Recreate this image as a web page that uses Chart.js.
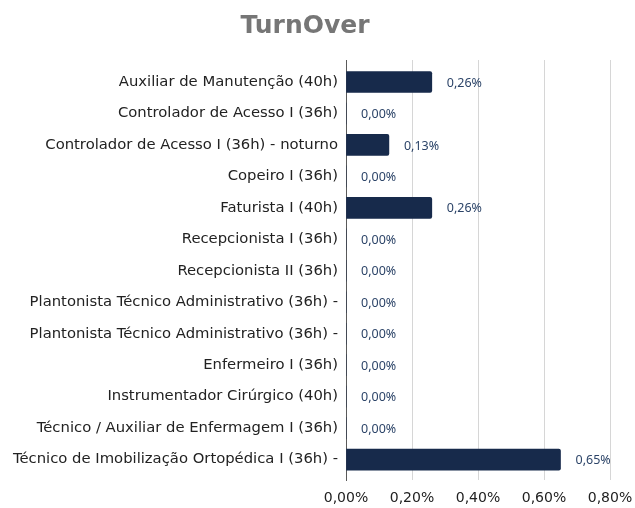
<!DOCTYPE html>
<html>
<head>
<meta charset="utf-8">
<title>TurnOver</title>
<style>
  body { margin: 0; background: #fff; }
  #wrap { width: 635px; height: 508px; }
</style>
</head>
<body>
<div id="wrap"><canvas id="chart" width="635" height="508"></canvas></div>
<script src="https://cdn.jsdelivr.net/npm/chart.js"></script>
<script>
var categories = [
  "Auxiliar de Manutenção (40h)",
  "Controlador de Acesso I (36h)",
  "Controlador de Acesso I (36h) - noturno",
  "Copeiro I (36h)",
  "Faturista I (40h)",
  "Recepcionista I (36h)",
  "Recepcionista II (36h)",
  "Plantonista Técnico Administrativo (36h) -",
  "Plantonista Técnico Administrativo (36h) -",
  "Enfermeiro I (36h)",
  "Instrumentador Cirúrgico (40h)",
  "Técnico / Auxiliar de Enfermagem I (36h)",
  "Técnico de Imobilização Ortopédica I (36h) -"
];
var turnover = [0.26, 0, 0.13, 0, 0.26, 0, 0, 0, 0, 0, 0, 0, 0.65];
var xTicks = [0, 0.2, 0.4, 0.6, 0.8];

function pct(v) {
  return v.toFixed(2).replace(".", ",") + "%";
}

// bars placed on a numeric row axis so the grid can run a bit past the first/last row
var points = turnover.map(function (v, i) { return { x: v, y: i }; });

// value labels drawn next to each bar
var valueLabels = {
  id: "valueLabels",
  afterDatasetsDraw: function (chart) {
    var ctx = chart.ctx;
    var meta = chart.getDatasetMeta(0);
    ctx.save();
    ctx.font = "12.5px 'Noto Sans'";
    ctx.fillStyle = "#2c4468";
    ctx.textBaseline = "middle";
    ctx.textAlign = "left";
    meta.data.forEach(function (bar, i) {
      ctx.fillText(pct(turnover[i]), bar.x + 15, bar.y + 1);
    });
    ctx.restore();
  }
};

new Chart(document.getElementById("chart"), {
  type: "bar",
  data: {
    datasets: [{
      data: points,
      backgroundColor: "#172a4b",
      borderRadius: 2,
      borderSkipped: "start",
      barThickness: 21
    }]
  },
  options: {
    indexAxis: "y",
    responsive: false,
    animation: false,
    layout: { padding: { left: 0, right: 25, top: 0, bottom: 0 } },
    plugins: {
      legend: { display: false },
      tooltip: { enabled: false },
      title: {
        display: true,
        text: "TurnOver",
        color: "#767676",
        font: { family: "'DejaVu Sans'", size: 25, weight: "bold", lineHeight: 1.2 },
        padding: { top: 11, bottom: 19 }
      }
    },
    scales: {
      x: {
        min: 0,
        max: 0.8,
        afterBuildTicks: function (axis) {
          axis.ticks = xTicks.map(function (v) { return { value: v }; });
        },
        afterFit: function (axis) {
          axis.height = 28;
          axis.paddingLeft = 0;
          axis.paddingRight = 0;
        },
        grid: { color: "#d6d6d6", drawTicks: false },
        border: { display: false },
        ticks: {
          color: "#222",
          font: { family: "'DejaVu Sans'", size: 14 },
          padding: 10,
          callback: function (v) { return pct(v); }
        }
      },
      y: {
        type: "linear",
        reverse: true,
        offset: false,
        min: -0.7,
        max: 12.65,
        afterBuildTicks: function (axis) {
          axis.ticks = categories.map(function (c, i) { return { value: i }; });
        },
        afterFit: function (axis) { axis.width = 346; },
        grid: { display: false, drawTicks: false, offset: false },
        border: { display: true, color: "#5a5a5a", width: 1 },
        ticks: {
          color: "#222",
          font: { family: "'DejaVu Sans'", size: 14.8 },
          padding: 8,
          callback: function (v) { return categories[v]; }
        }
      }
    }
  },
  plugins: [valueLabels]
});
</script>
</body>
</html>
